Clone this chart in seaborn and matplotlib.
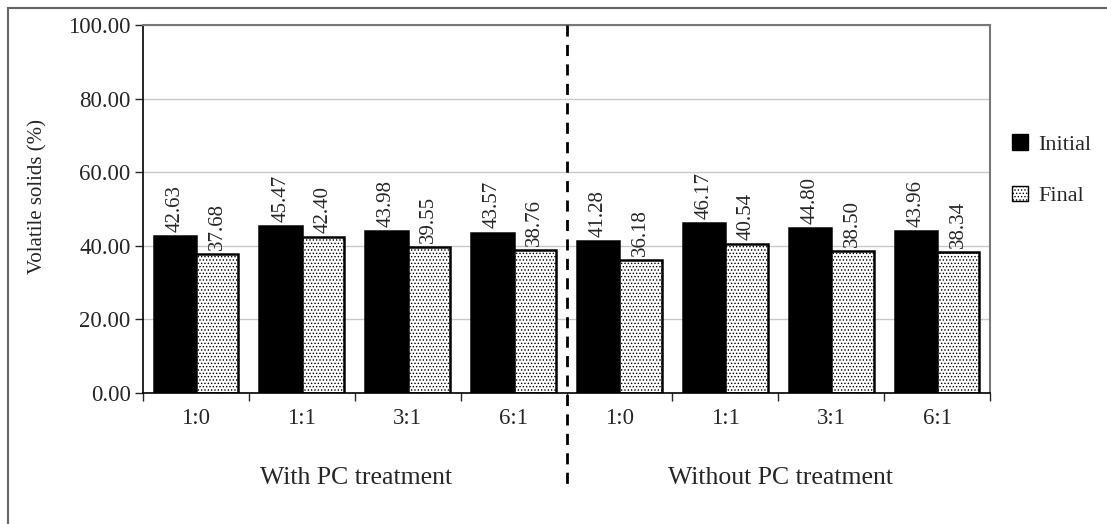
import numpy as np
import pandas as pd
import matplotlib.pyplot as plt
import matplotlib.transforms as mtransforms
from matplotlib.patches import Patch, Rectangle
import seaborn as sns

# data
ratios = ["1:0", "1:1", "3:1", "6:1"]
groups = ["With PC treatment", "Without PC treatment"]
initial_with = [42.63, 45.47, 43.98, 43.57]
initial_without = [41.28, 46.17, 44.80, 43.96]
final_with = [37.68, 42.40, 39.55, 38.76]
final_without = [36.18, 40.54, 38.50, 38.34]

sns.set_style("white")
plt.rcParams['font.family'] = ['Liberation Serif', 'DejaVu Serif']
plt.rcParams['hatch.color'] = '#666666'
plt.rcParams['hatch.linewidth'] = 0.6

keys = [f"{g}|{r}" for g in groups for r in ratios]
df = pd.DataFrame({
    'key': keys * 2,
    'stage': ['Initial'] * 8 + ['Final'] * 8,
    'value': initial_with + initial_without + final_with + final_without,
})

fig = plt.figure(figsize=(11.07, 5.24), dpi=100)
ax = fig.add_axes([143 / 1107, 1 - 393 / 524, (990 - 143) / 1107, (393 - 25) / 524])

sns.barplot(data=df, x='key', y='value', hue='stage', order=keys,
            hue_order=['Initial', 'Final'],
            palette={'Initial': 'black', 'Final': 'white'},
            edgecolor='black', linewidth=1.8, width=0.8, ax=ax, legend=False)

for p in ax.containers[1]:
    p.set_hatch('.....')

for cont in ax.containers:
    ax.bar_label(cont, fmt='%.2f', rotation=90, padding=3, fontsize=15)

ax.set_ylim(0, 100)
ax.set_xlim(-0.5, 7.5)
ax.set_yticks(np.arange(0, 101, 20))
ax.set_yticklabels([f"{v:.2f}" for v in np.arange(0, 101, 20)], fontsize=16.5)
ax.yaxis.grid(True, color='#c8c8c8', linewidth=1)
ax.set_axisbelow(True)
ax.tick_params(axis='y', direction='out', length=6, width=1, left=True, pad=3)

ax.set_xticks(range(8))
ax.set_xticklabels(ratios * 2, fontsize=16.5)
ax.set_xticks(np.arange(-0.5, 8, 1), minor=True)
ax.tick_params(axis='x', which='major', length=0, pad=11)
ax.tick_params(axis='x', which='minor', direction='out', length=6, width=1, bottom=True)
ax.set_xlabel('')
ax.set_ylabel('')

for s in ['left', 'bottom']:
    ax.spines[s].set_color('black')
    ax.spines[s].set_linewidth(1.2)
for s in ['top', 'right']:
    ax.spines[s].set_color('#777777')
    ax.spines[s].set_linewidth(1.5)

# separator between the two treatments
trans = mtransforms.blended_transform_factory(ax.transData, ax.transAxes)
ax.plot([3.5, 3.5], [1.0, -0.25], transform=trans, color='black',
        linestyle=(0, (4, 3)), linewidth=2, clip_on=False, zorder=5)

fig.text(356 / 1107, 1 - 478 / 524, groups[0], ha='center', va='center', fontsize=18.5)
fig.text(781 / 1107, 1 - 478 / 524, groups[1], ha='center', va='center', fontsize=18.5)
fig.text(38 / 1107, 1 - 196 / 524, 'Volatile solids (%)', rotation=90,
         ha='center', va='center', fontsize=15)

handles = [Patch(facecolor='black', edgecolor='black', label='Initial'),
           Patch(facecolor='white', edgecolor='black', hatch='.....', label='Final')]
fig.legend(handles=handles, loc='upper left', bbox_to_anchor=(992 / 1107, 1 - 114 / 524),
           frameon=False, fontsize=16, handlelength=0.7, handleheight=0.7,
           handletextpad=0.5, labelspacing=1.4)

fig.patches.append(Rectangle((8 / 1107, -0.02), 1.02, 1.02 - 8 / 524,
                             transform=fig.transFigure, fill=False,
                             edgecolor='#666666', linewidth=1.5))

fig.savefig('out.png', dpi=100)
